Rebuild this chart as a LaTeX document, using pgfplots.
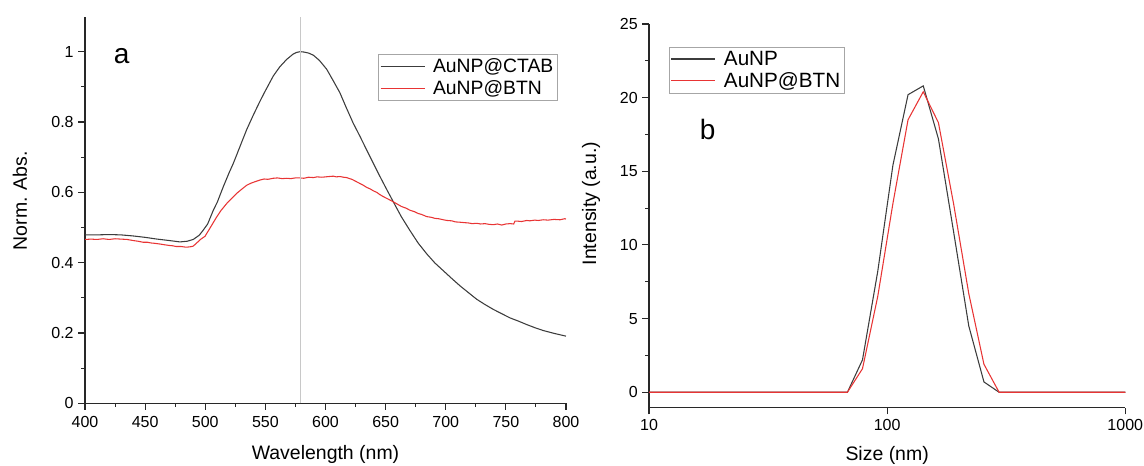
\documentclass[border=0pt]{standalone}
\usepackage{pgfplots}
\pgfplotsset{compat=1.18}
\usepackage{fontspec}
\setmainfont{Liberation Sans}
\definecolor{cblk}{RGB}{60,60,60}
\definecolor{cred}{RGB}{232,52,52}
\definecolor{caxis}{RGB}{40,40,40}
\definecolor{cgrid}{RGB}{200,200,200}
\begin{document}
\begin{tikzpicture}
\path[use as bounding box] (0,0) rectangle (858pt,349.5pt);
\pgfplotsset{
  every axis/.append style={
    scale only axis,
    axis lines*=left,
    axis line style={caxis, line width=0.9pt},
    tick style={caxis, line width=0.8pt},
    tick align=outside,
    major tick length=5pt,
    minor tick length=2.7pt,
    /pgf/number format/assume math mode=true,
    tick label style={font=\fontsize{12}{14}\selectfont},
    label style={font=\fontsize{14.6}{17}\selectfont},
    legend cell align=left,
    legend image code/.code={\draw[#1] (0pt,0pt) -- (33pt,0pt); \path (37pt,0pt);},
  }
}
% ---------- panel a ----------
\begin{axis}[
  at={(63.75pt,47.0pt)}, anchor=south west,
  width=360.75pt, height=290.1pt,
  xmin=400, xmax=800, ymin=0, ymax=1.1,
  xtick={400,450,...,800}, minor x tick num=1,
  ytick={0,0.2,0.4,0.6,0.8,1}, minor y tick num=1,
  yticklabel style={/pgf/number format/fixed},
  xticklabel style={yshift=-1.5pt},
  xlabel={Wavelength (nm)},
  ylabel={Norm. Abs.},
  xlabel style={at={(axis description cs:0.5,0)}, anchor=center, yshift=-38.5pt},
  ylabel style={at={([xshift=-48.75pt]axis description cs:0,0.524)}, anchor=center},
  legend style={at={(rel axis cs:0.61,0.902)}, anchor=north west, draw=gray!70,
    font=\fontsize{14.5}{16}\selectfont, inner xsep=1pt, inner ysep=1pt},
]
\addplot[cblk, line width=0.8pt] coordinates {
(400,0.479) (410,0.479) (420,0.480) (430,0.479) (440,0.476) (450,0.472) (460,0.467)
(470,0.463) (479,0.459) (485,0.461) (490,0.466) (495,0.478) (498,0.491) (502,0.510)
(506.7,0.549) (510,0.572) (515,0.616) (520,0.657) (523.3,0.682) (530,0.740) (534.4,0.778)
(540,0.820) (545.5,0.859) (550,0.889) (556.6,0.931) (562,0.957) (567.7,0.978) (573,0.993)
(576,0.998) (579,1.000) (582,0.999) (586,0.996) (589.9,0.990) (595,0.975) (601,0.950)
(606,0.920) (612,0.883)
(617,0.843) (623,0.797) (628.7,0.759) (634.3,0.720) (640,0.681) (645.3,0.645) (650,0.614)
(656.4,0.573) (663,0.531) (670.3,0.491) (677,0.456) (684.2,0.425) (691,0.399) (698,0.377)
(705,0.355) (711.9,0.334) (718.8,0.315) (725.7,0.296) (732.6,0.281) (739.6,0.267)
(746.5,0.255) (753.4,0.243) (760.3,0.234) (767.3,0.224) (774.2,0.215) (781.1,0.207)
(790,0.199) (800,0.191)
};
\addlegendentry{AuNP@CTAB}
\addplot[cred, line width=0.8pt] coordinates {
(400,0.466) (405,0.467) (410,0.466) (415,0.468) (420,0.466) (425,0.468) (430,0.467)
(435,0.466) (440,0.463) (444,0.461) (448.5,0.458) (452,0.458) (455,0.456) (458,0.455)
(462.4,0.453) (466,0.451) (470,0.449) (473,0.448) (475.7,0.446) (480,0.446) (484,0.444)
(487.3,0.445) (490,0.447) (492.9,0.456) (496,0.466) (499.8,0.475) (503,0.493) (506,0.510)
(509.5,0.530) (513,0.548) (517.8,0.568) (522,0.583) (526.1,0.597) (530,0.608) (534.4,0.620)
(538,0.626) (542,0.631) (545.5,0.635) (549,0.638) (552,0.637) (556.6,0.640) (560,0.641)
(564,0.639) (567.7,0.640) (571,0.639) (575,0.641) (578.8,0.641) (582,0.640) (586,0.643)
(589.9,0.642) (593,0.644) (597,0.643) (600,0.644) (603,0.645) (606.5,0.646) (609,0.644)
(612,0.645) (615,0.643) (617.6,0.642) (620,0.639) (622,0.637) (625.9,0.630) (628.7,0.625)
(631,0.621) (634.3,0.614) (637,0.610) (640,0.604) (642.6,0.600) (645,0.594) (648,0.588)
(652,0.581) (656.4,0.573) (660,0.566) (663,0.560) (667,0.555) (670.3,0.549) (674,0.545)
(677,0.540) (680,0.537) (684.2,0.531) (688,0.529) (691,0.526) (694,0.525) (698,0.522)
(701,0.520) (705,0.519) (708,0.516) (711.9,0.515) (715,0.514) (718.8,0.513) (722,0.511)
(725.7,0.512) (729,0.510) (732.6,0.511) (736,0.509) (739.6,0.508) (743,0.510) (746.5,0.507)
(750,0.510) (753.4,0.511) (756.5,0.510) (757.5,0.518) (760,0.518) (763,0.517) (767.3,0.520)
(770,0.519) (774,0.521) (777,0.520) (781,0.522) (785,0.521) (790,0.523) (795,0.522)
(799,0.525) (800,0.524)
};
\addlegendentry{AuNP@BTN}
\addplot[cgrid, line width=0.8pt, forget plot] coordinates {(579,0) (579,1.1)};
\node[font=\fontsize{21}{24}\selectfont, anchor=center] at (rel axis cs:0.076,0.897) {a};
\end{axis}
% ---------- panel b ----------
\begin{axis}[
  at={(486.75pt,43.7pt)}, anchor=south west,
  width=357.2pt, height=287.8pt,
  xmode=log, log basis x=10,
  xmin=10, xmax=1000, ymin=-1.05, ymax=25,
  xtick={10,100,1000}, xticklabels={10,100,1000},
  ytick={0,5,10,15,20,25}, minor y tick num=1,
  xlabel={Size (nm)},
  ylabel={Intensity (a.u.)},
  xlabel style={at={(axis description cs:0.5,0)}, anchor=center, yshift=-35.5pt},
  ylabel style={at={([xshift=-43.5pt]axis description cs:0,0.532)}, anchor=center},
  legend style={at={(rel axis cs:0.0426,0.941)}, anchor=north west, draw=gray!70,
    font=\fontsize{15.5}{17}\selectfont, inner xsep=1pt, inner ysep=1pt},
]
\addplot[cblk, line width=0.8pt] coordinates {
(10,0) (68.1,0) (78.8,2.2) (91.3,8.2) (105.7,15.4) (122.4,20.2) (141.8,20.8)
(164.2,17.2) (190.1,10.9) (220.2,4.5) (255,0.7) (295.3,0) (1000,0)
};
\addlegendentry{AuNP}
\addplot[cred, line width=0.8pt] coordinates {
(10,0) (68.1,0) (78.8,1.6) (91.3,6.5) (105.7,12.8) (122.4,18.5) (141.8,20.4)
(164.2,18.3) (190.1,12.8) (220.2,6.7) (255,1.9) (295.3,0) (1000,0)
};
\addlegendentry{AuNP@BTN}
\node[font=\fontsize{21}{24}\selectfont, anchor=center] at (rel axis cs:0.1232,0.726) {b};
\end{axis}
\end{tikzpicture}
\end{document}
